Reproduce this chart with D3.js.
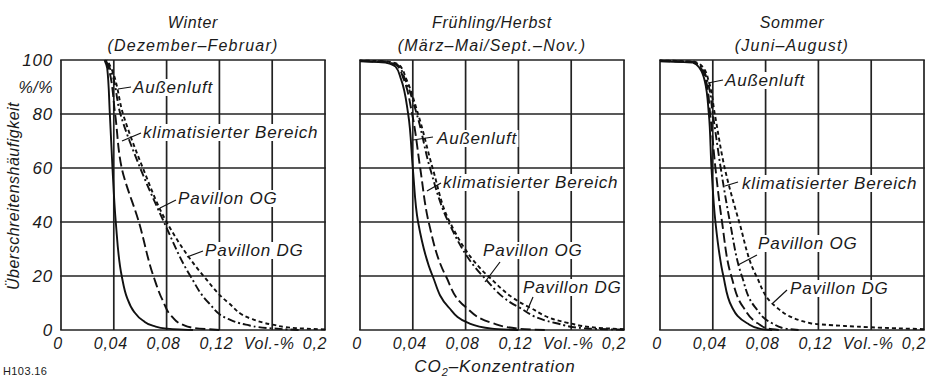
<!DOCTYPE html>
<html>
<head>
<meta charset="utf-8">
<script src="https://cdn.jsdelivr.net/npm/d3@7"></script>
<style>
  body { margin: 0; background: #fff; }
  svg text { font-family: "Liberation Sans", Arial, sans-serif; font-style: italic; fill: #1a1a1a; }
</style>
</head>
<body>
<svg id="chart" width="935" height="378"></svg>
<script>
// ---- data (CO2 concentration in Vol.-%, exceedance frequency in %) ----
const xTicks = [0, 0.04, 0.08, 0.12, 0.16, 0.2];
const xTickLabels = ["0", "0,04", "0,08", "0,12", "Vol.-%", "0,2"];
const yTicks = [0, 20, 40, 60, 80, 100];
const yTickLabels = ["0", "20", "40", "60", "80", "100"];
const seriesNames = ["Außenluft", "klimatisierter Bereich", "Pavillon OG", "Pavillon DG"];
const panelTitles = [
  ["Winter", "(Dezember–Februar)"],
  ["Frühling/Herbst", "(März–Mai/Sept.–Nov.)"],
  ["Sommer", "(Juni–August)"]
];

const winterAussen = [[0.033,100],[0.035,97],[0.037,80],[0.039,60],[0.0415,40],[0.046,20],[0.050,12],[0.055,7],[0.062,3.5],[0.070,1.5],[0.080,0.5],[0.10,0]];
const winterKlima  = [[0.034,100],[0.036,97],[0.041,80],[0.046,60],[0.059,40],[0.070,20],[0.077,11],[0.084,5],[0.092,2],[0.100,0.8],[0.12,0]];
const winterOG     = [[0.034,100],[0.037,97],[0.045,80],[0.060,60],[0.078,40],[0.098,20],[0.112,10],[0.127,4],[0.140,2],[0.157,0.7],[0.18,0]];
const winterDG     = [[0.035,100],[0.038,97],[0.047,80],[0.062,60],[0.080,40],[0.108,20],[0.127,10],[0.145,4],[0.160,2],[0.178,0.7],[0.20,0.2]];

const springAussen = [[0,99.5],[0.02,99],[0.027,97.5],[0.031,93],[0.0365,80],[0.040,60],[0.044,40],[0.055,20],[0.067,8.5],[0.082,2.6],[0.10,0.5],[0.12,0]];
const springKlima  = [[0,99.6],[0.02,99.2],[0.028,98],[0.033,93],[0.0395,80],[0.0456,60],[0.052,40],[0.065,20],[0.080,8.5],[0.10,2.6],[0.12,0.5],[0.14,0]];
const springOG     = [[0,99.7],[0.02,99.4],[0.029,98],[0.034,93],[0.043,80],[0.053,60],[0.067,40],[0.093,20],[0.120,8.5],[0.148,2.6],[0.17,0.6],[0.20,0.1]];
const springDG     = [[0,99.8],[0.02,99.5],[0.030,98],[0.035,93],[0.044,80],[0.055,60],[0.068,40],[0.097,20],[0.128,8.5],[0.158,2.6],[0.18,0.8],[0.20,0.3]];

const summerAussen = [[0,99.5],[0.025,99],[0.030,97],[0.034,92],[0.037,80],[0.039,60],[0.042,40],[0.048,20],[0.0545,8.5],[0.066,2.5],[0.076,0.4],[0.085,0]];
const summerKlima  = [[0,99.6],[0.025,99.2],[0.031,97],[0.035,92],[0.038,80],[0.042,60],[0.047,40],[0.054,20],[0.063,8.5],[0.074,2.5],[0.082,0.5],[0.09,0]];
const summerOG     = [[0,99.7],[0.025,99.3],[0.032,97],[0.036,92],[0.040,80],[0.046,60],[0.053,40],[0.062,20],[0.072,8.5],[0.085,2.5],[0.095,0.5],[0.105,0]];
const summerDG     = [[0,99.8],[0.026,99.4],[0.033,97],[0.037,92],[0.0415,80],[0.049,60],[0.060,40],[0.073,20],[0.088,8.5],[0.114,2.5],[0.14,1.5],[0.16,1],[0.20,0.3]];

const panelSeries = [
  [winterAussen, winterKlima, winterOG, winterDG],
  [springAussen, springKlima, springOG, springDG],
  [summerAussen, summerKlima, summerOG, summerDG]
];

// ---- layout ----
const panelLeft = [61, 360, 660];
const panelW = 264;
const plotTop = 60, plotBottom = 330;
const dashes = [null, "10,4", "8,3,2,3", "4,3"];

// label text position + leader line (relative to panel left, absolute y)
const labelLayout = [
  [ {tx:72, ty:87,  l:[57,89,70,87]},  {tx:82, ty:132, l:[61,141,80,133]},
    {tx:117,ty:198, l:[99,208,115,200]}, {tx:144,ty:250, l:[126,257,142,251]} ],
  [ {tx:77, ty:138, l:[53,140,73,137]}, {tx:83, ty:182, l:[67,191,81,183]},
    {tx:123,ty:250, l:[125,282,140,262]}, {tx:163,ty:287, l:[167,311,173,297]} ],
  [ {tx:65, ty:80,  l:[48,83,63,80]},  {tx:82, ty:183, l:[65,186,78,182]},
    {tx:98, ty:243, l:[78,265,97,255]}, {tx:130,ty:288, l:[113,303,127,290]} ]
];

const svg = d3.select("#chart");

const y = d3.scaleLinear().domain([0, 100]).range([plotBottom, plotTop]);

panelLeft.forEach((left, pi) => {
  const x = d3.scaleLinear().domain([0, 0.2]).range([left, left + panelW]);
  const g = svg.append("g");

  // grid
  g.selectAll(".vgrid").data(xTicks).enter().append("line")
    .attr("x1", d => x(d)).attr("x2", d => x(d))
    .attr("y1", plotTop).attr("y2", plotBottom)
    .attr("stroke", "#222").attr("stroke-width", 1.7);
  g.selectAll(".hgrid").data(yTicks).enter().append("line")
    .attr("x1", x(0) - 0.8).attr("x2", x(0.2) + 0.8)
    .attr("y1", d => y(d)).attr("y2", d => y(d))
    .attr("stroke", "#222").attr("stroke-width", 1.7);

  // titles
  const cx = left + panelW / 2;
  g.append("text").attr("x", cx).attr("y", 28).attr("text-anchor", "middle")
    .attr("font-size", 16).attr("letter-spacing", 0.7).text(panelTitles[pi][0]);
  g.append("text").attr("x", cx).attr("y", 51).attr("text-anchor", "middle")
    .attr("font-size", 16).attr("letter-spacing", 1.2).text(panelTitles[pi][1]);

  // x tick labels
  g.selectAll(".xlab").data(xTicks).enter().append("text")
    .attr("x", (d, i) => i === xTicks.length - 1 ? x(d) - 10 : x(d) - 3)
    .attr("y", 349)
    .attr("text-anchor", "middle")
    .attr("font-size", 16).attr("letter-spacing", 0.7)
    .text((d, i) => xTickLabels[i]);

  // curves (x as monotone function of y, so steep drops stay smooth)
  const line = d3.line().x(d => x(d[0])).y(d => y(d[1])).curve(d3.curveMonotoneY);
  panelSeries[pi].forEach((s, si) => {
    g.append("path").datum(s.slice().reverse())
      .attr("d", line)
      .attr("fill", "none")
      .attr("stroke", "#111")
      .attr("stroke-width", 1.9)
      .attr("stroke-dasharray", dashes[si]);
  });

  // labels with white backing and leader lines
  labelLayout[pi].forEach((lab, si) => {
    const t = g.append("text")
      .attr("x", left + lab.tx).attr("y", lab.ty + 6)
      .attr("font-size", 17).attr("letter-spacing", 0.8)
      .text(seriesNames[si]);
    const bb = t.node().getBBox();
    g.insert("rect", () => t.node())
      .attr("x", bb.x - 1).attr("y", bb.y + 1)
      .attr("width", bb.width + 2).attr("height", bb.height - 2)
      .attr("fill", "#fff");
    g.append("line")
      .attr("x1", left + lab.l[0]).attr("y1", lab.l[1])
      .attr("x2", left + lab.l[2]).attr("y2", lab.l[3])
      .attr("stroke", "#111").attr("stroke-width", 1.2);
  });
});

// y axis labels (first panel)
svg.selectAll(".ylab").data(yTicks).enter().append("text")
  .attr("x", 53).attr("y", d => y(d) + 6)
  .attr("text-anchor", "end")
  .attr("font-size", 17).attr("letter-spacing", 0.8)
  .text((d, i) => yTickLabels[i]);
svg.append("text").attr("x", 53).attr("y", y(90) + 6)
  .attr("text-anchor", "end").attr("font-size", 16).attr("letter-spacing", 0.5)
  .text("%/%");

svg.append("text")
  .attr("transform", `translate(19,${(plotTop + plotBottom) / 2 + 1}) rotate(-90)`)
  .attr("text-anchor", "middle")
  .attr("font-size", 16).attr("letter-spacing", 0.5)
  .text("Überschreitenshäufigkeit");

// x axis title
const xt = svg.append("text").attr("x", 495).attr("y", 372)
  .attr("text-anchor", "middle").attr("font-size", 17).attr("letter-spacing", 0.9);
xt.append("tspan").text("CO");
xt.append("tspan").attr("font-size", 11).attr("dy", 4).text("2");
xt.append("tspan").attr("dy", -4).text("–Konzentration");

svg.append("text").attr("x", 3).attr("y", 375)
  .attr("font-size", 11).attr("letter-spacing", 0.4).style("font-style", "normal")
  .text("H103.16");
</script>
</body>
</html>
